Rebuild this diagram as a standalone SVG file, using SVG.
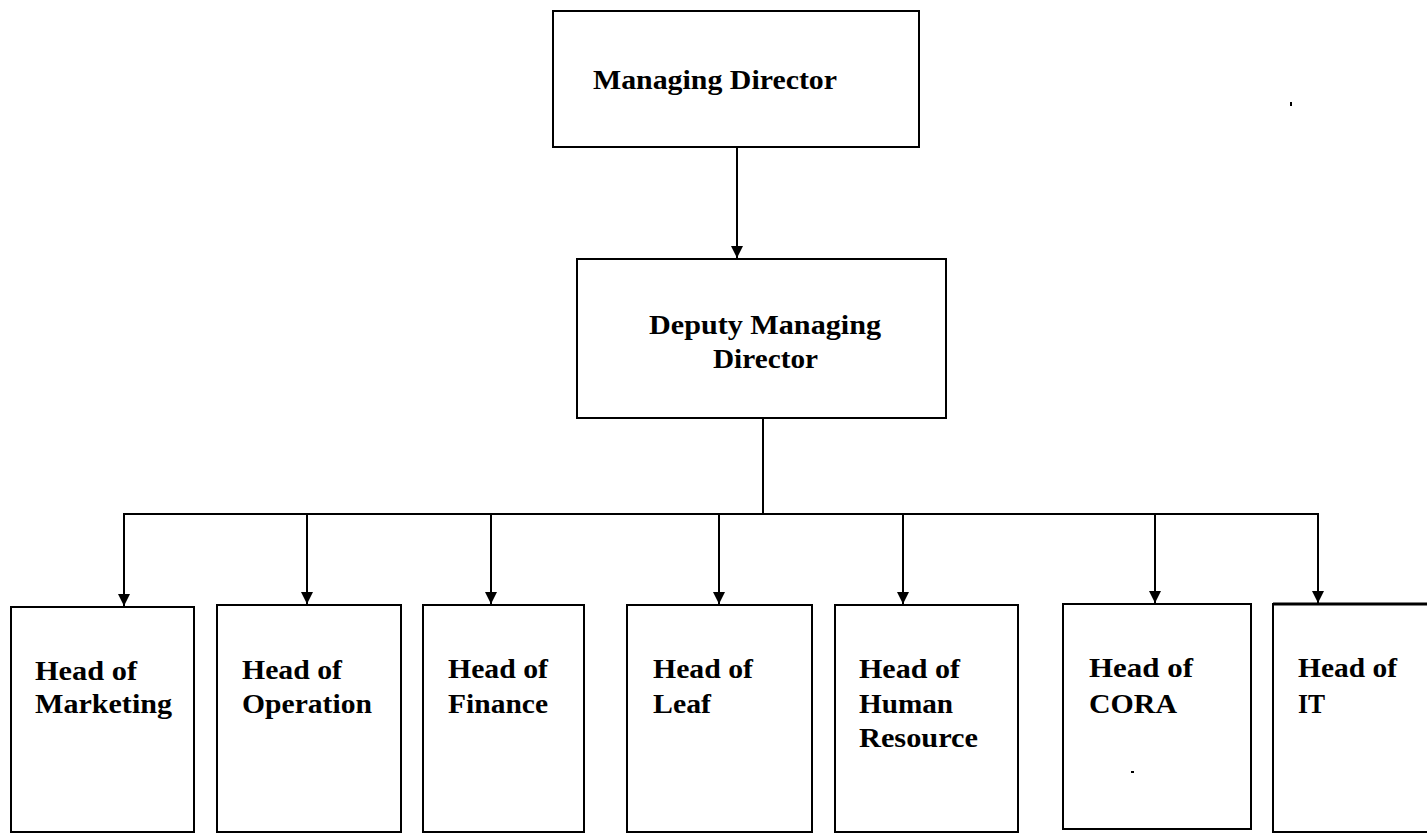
<svg xmlns="http://www.w3.org/2000/svg" width="1427" height="834" viewBox="0 0 1427 834">
  <style>
    .box { fill: #ffffff; stroke: #000000; stroke-width: 2; }
    .open { fill: none; stroke: #000000; stroke-width: 2; }
    .wire { fill: none; stroke: #000000; stroke-width: 2; }
    .lbl { font-family: "Liberation Serif", "Times New Roman", serif; font-weight: bold; font-size: 28px; fill: #000000; }
  </style>
  <defs>
    <marker id="arrow" viewBox="0 0 10 10" refX="10" refY="5" markerWidth="6" markerHeight="6" markerUnits="strokeWidth" orient="auto">
      <path d="M0,0 L10,5 L0,10 Z" fill="#000000"/>
    </marker>
  </defs>
  <rect width="1427" height="834" fill="#ffffff"/>

  <!-- reporting lines -->
  <g id="connectors">
    <line class="wire" x1="737" y1="147" x2="737" y2="258" marker-end="url(#arrow)"/>
    <line class="wire" x1="763" y1="418" x2="763" y2="514"/>
    <line class="wire" x1="123" y1="514" x2="1319" y2="514"/>
    <line class="wire" x1="124" y1="514" x2="124" y2="606" marker-end="url(#arrow)"/>
    <line class="wire" x1="307" y1="514" x2="307" y2="604" marker-end="url(#arrow)"/>
    <line class="wire" x1="491" y1="514" x2="491" y2="604" marker-end="url(#arrow)"/>
    <line class="wire" x1="719" y1="514" x2="719" y2="604" marker-end="url(#arrow)"/>
    <line class="wire" x1="903" y1="514" x2="903" y2="604" marker-end="url(#arrow)"/>
    <line class="wire" x1="1155" y1="514" x2="1155" y2="603" marker-end="url(#arrow)"/>
    <line class="wire" x1="1318" y1="514" x2="1318" y2="603" marker-end="url(#arrow)"/>
  </g>

  <g id="managing-director">
    <rect class="box" x="553" y="11" width="366" height="136"/>
    <text class="lbl" x="593" y="89" textLength="244" lengthAdjust="spacingAndGlyphs">Managing Director</text>
  </g>

  <g id="deputy-managing-director">
    <rect class="box" x="577" y="259" width="369" height="159"/>
    <text class="lbl" x="649" y="334" textLength="232" lengthAdjust="spacingAndGlyphs">Deputy Managing</text>
    <text class="lbl" x="713" y="368" textLength="105" lengthAdjust="spacingAndGlyphs">Director</text>
  </g>

  <g id="head-marketing">
    <rect class="box" x="11" y="607" width="183" height="225"/>
    <text class="lbl" x="35" y="680" textLength="102" lengthAdjust="spacingAndGlyphs">Head of</text>
    <text class="lbl" x="35" y="713" textLength="137" lengthAdjust="spacingAndGlyphs">Marketing</text>
  </g>

  <g id="head-operation">
    <rect class="box" x="217" y="605" width="184" height="227"/>
    <text class="lbl" x="242" y="679" textLength="100" lengthAdjust="spacingAndGlyphs">Head of</text>
    <text class="lbl" x="242" y="713" textLength="130" lengthAdjust="spacingAndGlyphs">Operation</text>
  </g>

  <g id="head-finance">
    <rect class="box" x="423" y="605" width="161" height="227"/>
    <text class="lbl" x="448" y="678" textLength="100" lengthAdjust="spacingAndGlyphs">Head of</text>
    <text class="lbl" x="448" y="713" textLength="100" lengthAdjust="spacingAndGlyphs">Finance</text>
  </g>

  <g id="head-leaf">
    <rect class="box" x="627" y="605" width="185" height="227"/>
    <text class="lbl" x="653" y="678" textLength="100" lengthAdjust="spacingAndGlyphs">Head of</text>
    <text class="lbl" x="653" y="713" textLength="58" lengthAdjust="spacingAndGlyphs">Leaf</text>
  </g>

  <g id="head-human-resource">
    <rect class="box" x="835" y="605" width="183" height="227"/>
    <text class="lbl" x="859" y="678" textLength="101" lengthAdjust="spacingAndGlyphs">Head of</text>
    <text class="lbl" x="859" y="713" textLength="94" lengthAdjust="spacingAndGlyphs">Human</text>
    <text class="lbl" x="859" y="747" textLength="119" lengthAdjust="spacingAndGlyphs">Resource</text>
  </g>

  <g id="head-cora">
    <rect class="box" x="1063" y="604" width="188" height="225"/>
    <text class="lbl" x="1089" y="677" textLength="104" lengthAdjust="spacingAndGlyphs">Head of</text>
    <text class="lbl" x="1089" y="713" textLength="88" lengthAdjust="spacingAndGlyphs">CORA</text>
    <rect x="1131" y="771" width="3" height="2" fill="#000000"/>
  </g>

  <g id="head-it">
    <path class="open" d="M1427,604 H1273 V832 H1427"/>
    <line x1="1273" y1="604" x2="1427" y2="604" stroke="#000000" stroke-width="3"/>
    <text class="lbl" x="1298" y="677" textLength="99" lengthAdjust="spacingAndGlyphs">Head of</text>
    <text class="lbl" x="1298" y="713" textLength="27" lengthAdjust="spacingAndGlyphs">IT</text>
  </g>

  <rect x="1290" y="102" width="2" height="4" fill="#000000"/>
</svg>
